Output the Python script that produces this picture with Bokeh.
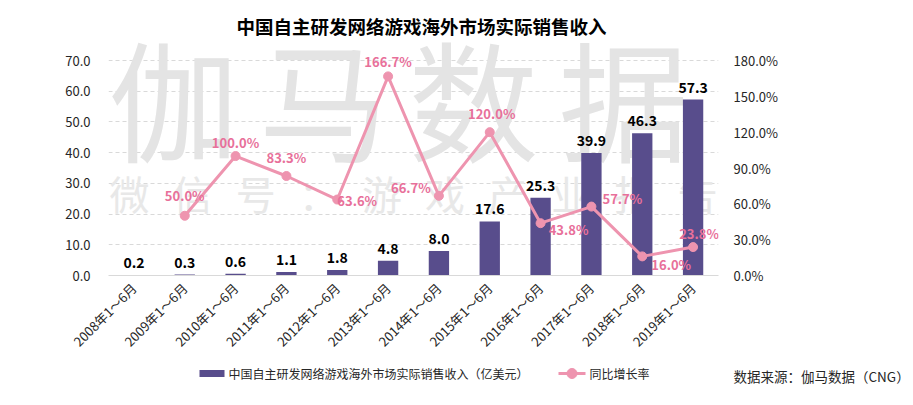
import math
from bokeh.plotting import figure
from bokeh.layouts import column
from bokeh.models import (Range1d, LinearAxis, FixedTicker, PrintfTickFormatter, Label,
                          LabelSet, ColumnDataSource, FactorRange)
from bokeh.core.properties import value
from bokeh.embed import file_html
from bokeh.resources import INLINE

# ---------------- data ----------------
categories = ["2008年1～6月", "2009年1～6月", "2010年1～6月", "2011年1～6月",
              "2012年1～6月", "2013年1～6月", "2014年1～6月", "2015年1～6月",
              "2016年1～6月", "2017年1～6月", "2018年1～6月", "2019年1～6月"]
revenue = [0.2, 0.3, 0.6, 1.1, 1.8, 4.8, 8.0, 17.6, 25.3, 39.9, 46.3, 57.3]
growth_categories = categories[1:]
growth = [50.0, 100.0, 83.3, 63.6, 166.7, 66.7, 120.0, 43.8, 57.7, 16.0, 23.8]
left_ticks = [0, 10, 20, 30, 40, 50, 60, 70]
right_ticks = [0, 30, 60, 90, 120, 150, 180]

title_text = "中国自主研发网络游戏海外市场实际销售收入"
bar_name = "中国自主研发网络游戏海外市场实际销售收入（亿美元）"
line_name = "同比增长率"
source_text = "数据来源：伽马数据（CNG）"
watermark_big = "伽马数据"
watermark_small = "微信号：游戏产业报告"

# ---------------- styles ----------------
FONT = "Noto Sans CJK SC"
BAR = "#584D8C"
LINE = "#EE94AF"
PINK_TXT = "#E8709A"
GRID = "#D9D9D9"
TXT = "#262626"
WM = "#E4E4E4"
# per-point label offsets (px: +x right, +y up)
growth_dx = [0, 0, 0, 20, 0, -28, 2, 28, 31, 29, 6]
growth_dy = [20, 14, 19, -1, 15, 8, 19, -6, 8, -8, 14]

W = 913
CH = 364                        # chart figure height
LH = 405 - CH                   # legend strip height
FL, FR, FB = 108, 718, 275      # frame left/right/bottom (px)
GT = 60                         # position of the 70.0 gridline (px)

y_end = left_ticks[-1] * FB / (FB - GT)
pct_end = right_ticks[-1] * FB / (FB - GT)

fig = figure(width=W, height=CH, x_range=FactorRange(*categories), y_range=Range1d(0, y_end),
             output_backend="svg", toolbar_location=None,
             min_border_left=FL, min_border_right=W - FR, min_border_top=0,
             min_border_bottom=CH - FB)
fig.frame_align = False
fig.outline_line_color = None
fig.background_fill_color = "white"
fig.extra_y_ranges = {"pct": Range1d(0, pct_end)}

# helpers to place non-data annotations (px -> data units)
def px(X):
    return (X - FL) / ((FR - FL) / len(categories))

def py(Y):
    return (FB - Y) * left_ticks[-1] / (FB - GT)

# watermark
for i, ch in enumerate(watermark_big):
    fig.add_layout(Label(x=px(173 + i * 150), y=py(94), text=ch, text_font=FONT,
                         text_font_size="130px", text_color=WM, text_align="center",
                         text_baseline="middle", level="underlay"))
for i, ch in enumerate(watermark_small):
    fig.add_layout(Label(x=px(129 + i * 63.1), y=py(192), text=ch, text_font=FONT,
                         text_font_size="40px", text_color="#E8E8E8", text_align="center",
                         text_baseline="middle", level="underlay"))

# axes
fig.yaxis.ticker = FixedTicker(ticks=left_ticks)
fig.yaxis.formatter = PrintfTickFormatter(format="%.1f")
ax_r = LinearAxis(y_range_name="pct", ticker=FixedTicker(ticks=right_ticks),
                  formatter=PrintfTickFormatter(format="%.1f%%"))
fig.add_layout(ax_r, "right")
for ax in (fig.yaxis[0], ax_r, fig.xaxis[0]):
    ax.major_tick_line_color = None
    ax.minor_tick_line_color = None
    ax.major_tick_out = 0
    ax.major_tick_in = 0
    ax.minor_tick_out = 0
    ax.minor_tick_in = 0
    ax.major_label_text_font = FONT
    ax.major_label_text_font_size = "13px"
    ax.major_label_text_color = TXT
fig.yaxis[0].axis_line_color = None
ax_r.axis_line_color = None
fig.yaxis[0].major_label_standoff = 18
ax_r.major_label_standoff = 15

xa = fig.xaxis[0]
xa.axis_line_color = GRID
xa.major_label_orientation = math.pi / 4
xa.major_label_standoff = 10

fig.xgrid.visible = False
fig.ygrid.ticker = FixedTicker(ticks=left_ticks)
fig.ygrid.grid_line_color = GRID
fig.ygrid.grid_line_dash = "4 3"

# bars
fig.vbar(x=categories, top=revenue, width=0.4, fill_color=BAR, line_color=None)
bar_src = ColumnDataSource(dict(x=categories, y=revenue, t=[f"{v:.1f}" for v in revenue]))
fig.add_layout(LabelSet(x="x", y="y", text="t", source=bar_src, text_align="center",
                        text_baseline="bottom", y_offset=7, text_font=value(FONT),
                        text_font_size=value("14px"), text_font_style="bold",
                        text_color="black"))

# line
fig.line(x=growth_categories, y=growth, y_range_name="pct", line_color=LINE, line_width=3)
fig.scatter(x=growth_categories, y=growth, y_range_name="pct", size=9,
            fill_color=LINE, line_color=LINE)
g_src = ColumnDataSource(dict(x=growth_categories, y=growth,
                              t=[f"{v:.1f}%" for v in growth], dx=growth_dx, dy=growth_dy))
fig.add_layout(LabelSet(x="x", y="y", text="t", source=g_src, y_range_name="pct",
                        x_offset="dx", y_offset="dy", text_align="center",
                        text_baseline="middle", text_font=value(FONT),
                        text_font_size=value("13px"), text_font_style="bold",
                        text_color=PINK_TXT))

# title
fig.add_layout(Label(x=px(421), y=py(25), text=title_text, text_font=FONT,
                     text_font_size="18.5px", text_font_style="bold", text_color="black",
                     text_align="center", text_baseline="middle"))

# ---------------- legend strip (second figure below the chart) ----------------
leg = figure(width=W, height=LH, x_range=Range1d(0, W), y_range=Range1d(0, LH),
             output_backend="svg", toolbar_location=None, min_border=0,
             x_axis_location=None, y_axis_location=None)
leg.frame_align = False
leg.grid.visible = False
leg.outline_line_color = None

def ly(Y):
    return LH - (Y - CH)

leg.quad(left=[199], right=[224], bottom=[ly(376.5)], top=[ly(369.5)],
         fill_color=BAR, line_color=None)
leg.add_layout(Label(x=228, y=ly(373), text=bar_name, text_font=FONT,
                     text_font_size="12px", text_color=TXT, text_baseline="middle"))
leg.line(x=[558, 585], y=[ly(373), ly(373)], line_color=LINE, line_width=3)
leg.scatter(x=[571.5], y=[ly(373)], size=10, fill_color=LINE, line_color=LINE)
leg.add_layout(Label(x=589, y=ly(373), text=line_name, text_font=FONT,
                     text_font_size="12px", text_color=TXT, text_baseline="middle"))
leg.add_layout(Label(x=733, y=ly(375), text=source_text, text_font=FONT,
                     text_font_size="13.5px", text_color=TXT, text_baseline="middle"))

p = column(fig, leg, spacing=0)
open("out.html", "w").write(file_html(p, INLINE))
